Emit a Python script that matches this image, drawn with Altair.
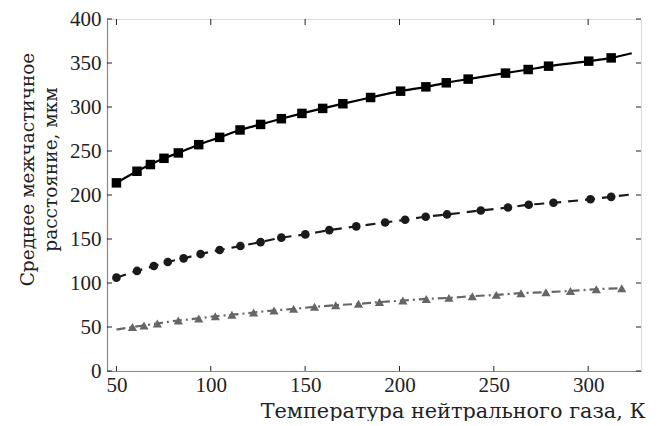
import altair as alt
import pandas as pd

# Series 1: squares (solid black line)
sq_x = [50, 60.9, 68.0, 75.2, 82.8, 93.6, 104.7, 115.5, 126.4, 137.4, 148.3, 159.3, 170.0, 184.7,
        200.6, 214.0, 224.8, 236.4, 256.2, 268.2, 279.0, 300.3, 312.2]
sq_y = [213.8, 227.0, 234.6, 241.7, 247.8, 257.2, 265.5, 273.9, 280.2, 286.7, 292.7, 298.4, 303.7, 310.8,
        318.0, 322.9, 327.5, 331.7, 338.5, 342.6, 346.4, 352.1, 355.8]
sq_line_end = (323.1, 361.1)

# Series 2: circles (dashed dark line)
ci_x = [50, 60.9, 69.8, 77.2, 85.6, 94.6, 104.7, 115.7, 126.4, 137.4, 150.1, 162.8, 177.1,
        192.4, 203.0, 213.9, 225.2, 243.1, 257.5, 268.5, 281.6, 301.2, 312.2]
ci_y = [106.1, 113.7, 119.3, 123.9, 128.0, 132.9, 137.5, 142.0, 146.5, 151.5, 155.2, 160.1, 164.3,
        168.8, 171.9, 175.3, 177.9, 182.4, 185.8, 188.9, 191.2, 195.2, 197.9]
ci_line_end = (322.9, 200.6)

# Series 3: triangles (dash-dot gray line)
tr_x = [58.5, 64.6, 71.7, 82.8, 93.6, 102.4, 111.2, 122.7, 133.5, 143.9, 155.0, 166.2, 178.3, 189.4,
        201.8, 214.2, 226.2, 238.6, 251.3, 264.4, 277.6, 290.6, 304.3, 317.8]
tr_y = [49.9, 51.8, 54.0, 57.4, 59.7, 62.3, 63.8, 66.5, 68.8, 70.6, 72.9, 74.8, 76.3, 78.3,
        80.1, 81.9, 83.1, 85.0, 86.5, 88.4, 89.5, 91.0, 92.9, 94.1]
tr_line_start = (50.0, 47.2)

x_ticks = [50, 100, 150, 200, 250, 300]
y_ticks = [0, 50, 100, 150, 200, 250, 300, 350, 400]

x_title = "Температура нейтрального газа, К"
y_title = ["Среднее межчастичное", "расстояние, мкм"]

FONT = "Liberation Serif"
TFONT = "DejaVu Serif"
W, H = 534, 352

sq = pd.DataFrame({"x": sq_x, "y": sq_y})
ci = pd.DataFrame({"x": ci_x, "y": ci_y})
tr = pd.DataFrame({"x": tr_x, "y": tr_y})
sq_line = pd.DataFrame({"x": sq_x + [sq_line_end[0]], "y": sq_y + [sq_line_end[1]]})
ci_line = pd.DataFrame({"x": ci_x + [ci_line_end[0]], "y": ci_y + [ci_line_end[1]]})
tr_line = pd.DataFrame({"x": [tr_line_start[0]] + tr_x, "y": [tr_line_start[1]] + tr_y})
xt = pd.DataFrame({"v": x_ticks})
yt = pd.DataFrame({"v": y_ticks})

xs = alt.Scale(domain=[45, 328], nice=False, zero=False)
ys = alt.Scale(domain=[0, 400], nice=False)

x_axis = alt.Axis(values=x_ticks, ticks=False, grid=False, domainColor="#8a8a8a", domainWidth=1.2,
                  labelFont=FONT, labelFontSize=21, labelColor="#222", labelPadding=3,
                  title=x_title, titleFont=TFONT, titleFontSize=20.8, titleFontWeight="normal",
                  titleColor="#222", titleAnchor="end", titleAlign="right",
                  titleX=W + 4, titleY=40, titleBaseline="middle")
y_axis = alt.Axis(values=y_ticks, ticks=False, grid=False, domainColor="#8a8a8a", domainWidth=1.2,
                  labelFont=FONT, labelFontSize=21, labelColor="#222", labelPadding=6,
                  title=y_title, titleFont=TFONT, titleFontSize=18.5, titleFontWeight="normal",
                  titleColor="#222", titleX=-80, titleY=150, titleBaseline="middle",
                  titleAlign="center", titleAngle=270, titleLineHeight=23)

base_x = alt.X("x:Q", scale=xs, axis=x_axis)
base_y = alt.Y("y:Q", scale=ys, axis=y_axis)

l1 = alt.Chart(sq_line).mark_line(color="#000", strokeWidth=2.2, interpolate="monotone").encode(x=base_x, y=base_y)
p1 = alt.Chart(sq).mark_point(shape="square", filled=True, size=90, color="#000", opacity=1).encode(
    x=alt.X("x:Q", scale=xs), y=alt.Y("y:Q", scale=ys))
l2 = alt.Chart(ci_line).mark_line(color="#1a1a1a", strokeWidth=2.2, strokeDash=[10, 7], interpolate="monotone").encode(
    x=alt.X("x:Q", scale=xs), y=alt.Y("y:Q", scale=ys))
p2 = alt.Chart(ci).mark_point(shape="circle", filled=True, size=75, color="#1a1a1a", opacity=1).encode(
    x=alt.X("x:Q", scale=xs), y=alt.Y("y:Q", scale=ys))
l3 = alt.Chart(tr_line).mark_line(color="#666666", strokeWidth=2.2, strokeDash=[9, 4, 2, 4], interpolate="monotone").encode(
    x=alt.X("x:Q", scale=xs), y=alt.Y("y:Q", scale=ys))
p3 = alt.Chart(tr).mark_point(shape="triangle-up", filled=True, size=85, color="#666666", opacity=1).encode(
    x=alt.X("x:Q", scale=xs), y=alt.Y("y:Q", scale=ys))

tick_color = "#222"
bt = alt.Chart(xt).mark_rule(color=tick_color, strokeWidth=1).encode(
    x=alt.X("v:Q", scale=xs), y=alt.value(H), y2=alt.value(H - 5))
tt = alt.Chart(xt).mark_rule(color=tick_color, strokeWidth=1).encode(
    x=alt.X("v:Q", scale=xs), y=alt.value(0), y2=alt.value(6))
lt = alt.Chart(yt).mark_rule(color=tick_color, strokeWidth=1).encode(
    y=alt.Y("v:Q", scale=ys), x=alt.value(0), x2=alt.value(5))
rt = alt.Chart(yt).mark_rule(color=tick_color, strokeWidth=1).encode(
    y=alt.Y("v:Q", scale=ys), x=alt.value(W), x2=alt.value(W - 5))

chart = alt.layer(l1, l2, l3, p1, p2, p3, bt, tt, lt, rt).properties(
    width=W, height=H,
    autosize=alt.AutoSizeParams(type="none"),
    padding={"left": 99, "top": 11, "right": 10, "bottom": 50},
).configure_view(stroke="#111", strokeWidth=1.5).configure(background="white")

chart.save("out.html", embed_options={"renderer": "svg", "actions": False})
